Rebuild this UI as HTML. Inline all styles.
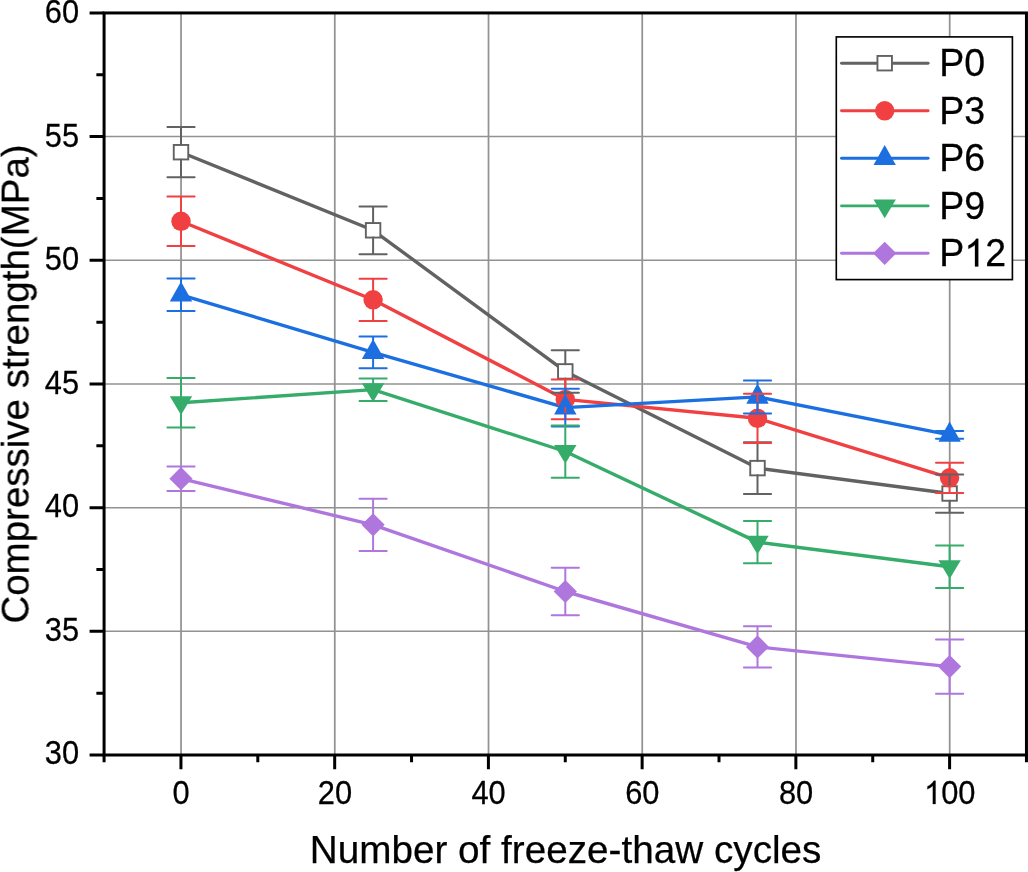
<!DOCTYPE html>
<html><head><meta charset="utf-8"><style>
html,body{margin:0;padding:0;background:#fff;width:1028px;height:872px;overflow:hidden;font-family:"Liberation Sans",sans-serif;}
svg{display:block;}
</style></head><body>
<svg width="1028" height="872" viewBox="0 0 1028 872">
<rect width="1028" height="872" fill="#fff"/>
<path d="M181.05 12.95V755.00M334.78 12.95V755.00M488.51 12.95V755.00M642.24 12.95V755.00M795.97 12.95V755.00M949.70 12.95V755.00" stroke="#929292" stroke-width="1.75" fill="none"/>
<path d="M104.08 631.33H1026.46M104.08 507.65H1026.46M104.08 383.97H1026.46M104.08 260.30H1026.46M104.08 136.62H1026.46" stroke="#929292" stroke-width="1.5" fill="none"/>
<polyline points="181.00,152.20 373.10,230.30 565.30,371.40 757.50,468.10 949.60,493.50" fill="none" stroke="#626262" stroke-width="3.4" stroke-linejoin="round"/>
<polyline points="181.00,221.30 373.10,299.80 565.30,399.40 757.50,418.30 949.60,477.80" fill="none" stroke="#f04042" stroke-width="3.4" stroke-linejoin="round"/>
<polyline points="181.00,294.80 373.10,352.30 565.30,407.60 757.50,396.90 949.60,434.90" fill="none" stroke="#1b6fe0" stroke-width="3.4" stroke-linejoin="round"/>
<polyline points="181.00,402.70 373.10,389.60 565.30,451.50 757.50,542.10 949.60,566.70" fill="none" stroke="#36ac6a" stroke-width="3.4" stroke-linejoin="round"/>
<polyline points="181.00,478.70 373.10,524.80 565.30,591.50 757.50,646.90 949.60,666.60" fill="none" stroke="#af77de" stroke-width="3.4" stroke-linejoin="round"/>
<rect x="173.75" y="144.95" width="14.50" height="14.50" fill="#fff" stroke="#626262" stroke-width="1.9"/>
<rect x="365.85" y="223.05" width="14.50" height="14.50" fill="#fff" stroke="#626262" stroke-width="1.9"/>
<rect x="558.05" y="364.15" width="14.50" height="14.50" fill="#fff" stroke="#626262" stroke-width="1.9"/>
<rect x="750.25" y="460.85" width="14.50" height="14.50" fill="#fff" stroke="#626262" stroke-width="1.9"/>
<rect x="942.35" y="486.25" width="14.50" height="14.50" fill="#fff" stroke="#626262" stroke-width="1.9"/>
<circle cx="181.00" cy="221.30" r="9.70" fill="#f04042"/>
<circle cx="373.10" cy="299.80" r="9.70" fill="#f04042"/>
<circle cx="565.30" cy="399.40" r="9.70" fill="#f04042"/>
<circle cx="757.50" cy="418.30" r="9.70" fill="#f04042"/>
<circle cx="949.60" cy="477.80" r="9.70" fill="#f04042"/>
<path d="M181.00 281.40L192.20 301.60L169.80 301.60Z" fill="#1b6fe0"/>
<path d="M373.10 338.90L384.30 359.10L361.90 359.10Z" fill="#1b6fe0"/>
<path d="M565.30 394.20L576.50 414.40L554.10 414.40Z" fill="#1b6fe0"/>
<path d="M757.50 383.50L768.70 403.70L746.30 403.70Z" fill="#1b6fe0"/>
<path d="M949.60 421.50L960.80 441.70L938.40 441.70Z" fill="#1b6fe0"/>
<path d="M181.00 415.00L192.20 396.30L169.80 396.30Z" fill="#36ac6a"/>
<path d="M373.10 401.90L384.30 383.20L361.90 383.20Z" fill="#36ac6a"/>
<path d="M565.30 463.80L576.50 445.10L554.10 445.10Z" fill="#36ac6a"/>
<path d="M757.50 554.40L768.70 535.70L746.30 535.70Z" fill="#36ac6a"/>
<path d="M949.60 579.00L960.80 560.30L938.40 560.30Z" fill="#36ac6a"/>
<path d="M181.00 467.10L192.60 478.70L181.00 490.30L169.40 478.70Z" fill="#af77de"/>
<path d="M373.10 513.20L384.70 524.80L373.10 536.40L361.50 524.80Z" fill="#af77de"/>
<path d="M565.30 579.90L576.90 591.50L565.30 603.10L553.70 591.50Z" fill="#af77de"/>
<path d="M757.50 635.30L769.10 646.90L757.50 658.50L745.90 646.90Z" fill="#af77de"/>
<path d="M949.60 655.00L961.20 666.60L949.60 678.20L938.00 666.60Z" fill="#af77de"/>
<path d="M181.00 126.90V145.00M181.00 159.40V177.30M167.40 126.90H194.60M167.40 177.30H194.60M373.10 206.60V223.10M373.10 237.50V254.20M359.50 206.60H386.70M359.50 254.20H386.70M565.30 350.30V364.20M565.30 378.60V392.80M551.70 350.30H578.90M551.70 392.80H578.90M757.50 442.30V460.90M757.50 475.30V494.00M743.90 442.30H771.10M743.90 494.00H771.10M949.60 474.50V486.30M949.60 500.70V512.80M936.00 474.50H963.20M936.00 512.80H963.20" stroke="#626262" stroke-width="2.0" stroke-linecap="round" fill="none"/>
<path d="M181.00 196.60V212.60M181.00 230.00V246.10M167.40 196.60H194.60M167.40 246.10H194.60M373.10 278.80V291.10M373.10 308.50V321.00M359.50 278.80H386.70M359.50 321.00H386.70M565.30 379.50V390.70M565.30 408.10V419.30M551.70 379.50H578.90M551.70 419.30H578.90M757.50 393.70V409.60M757.50 427.00V443.10M743.90 393.70H771.10M743.90 443.10H771.10M949.60 462.70V469.10M949.60 486.50V492.90M936.00 462.70H963.20M936.00 492.90H963.20" stroke="#f04042" stroke-width="2.0" stroke-linecap="round" fill="none"/>
<path d="M181.00 278.60V282.40M181.00 300.60V311.00M167.40 278.60H194.60M167.40 311.00H194.60M373.10 336.40V339.90M373.10 358.10V368.30M359.50 336.40H386.70M359.50 368.30H386.70M565.30 388.70V395.20M565.30 413.40V426.50M551.70 388.70H578.90M551.70 426.50H578.90M757.50 380.50V384.50M757.50 402.70V413.40M743.90 380.50H771.10M743.90 413.40H771.10M936.00 431.10H963.20M936.00 438.70H963.20" stroke="#1b6fe0" stroke-width="2.0" stroke-linecap="round" fill="none"/>
<path d="M181.00 378.00V397.30M181.00 414.00V427.40M167.40 378.00H194.60M167.40 427.40H194.60M373.10 378.40V384.20M359.50 378.40H386.70M359.50 400.90H386.70M565.30 425.40V446.10M565.30 462.80V477.70M551.70 425.40H578.90M551.70 477.70H578.90M757.50 521.00V536.70M757.50 553.40V563.20M743.90 521.00H771.10M743.90 563.20H771.10M949.60 545.60V561.30M949.60 578.00V587.90M936.00 545.60H963.20M936.00 587.90H963.20" stroke="#36ac6a" stroke-width="2.0" stroke-linecap="round" fill="none"/>
<path d="M181.00 466.50V468.10M181.00 489.30V491.00M167.40 466.50H194.60M167.40 491.00H194.60M373.10 498.80V514.20M373.10 535.40V550.90M359.50 498.80H386.70M359.50 550.90H386.70M565.30 567.80V580.90M565.30 602.10V615.20M551.70 567.80H578.90M551.70 615.20H578.90M757.50 626.20V636.30M757.50 657.50V667.60M743.90 626.20H771.10M743.90 667.60H771.10M949.60 639.60V656.00M949.60 677.20V693.70M936.00 639.60H963.20M936.00 693.70H963.20" stroke="#af77de" stroke-width="2.0" stroke-linecap="round" fill="none"/>
<rect x="104.08" y="12.95" width="922.38" height="742.05" fill="none" stroke="#000" stroke-width="3.0"/>
<path d="M89.58 755.00H104.08M89.58 631.33H104.08M89.58 507.65H104.08M89.58 383.97H104.08M89.58 260.30H104.08M89.58 136.62H104.08M89.58 12.95H104.08M96.38 693.16H104.08M96.38 569.49H104.08M96.38 445.81H104.08M96.38 322.14H104.08M96.38 198.46H104.08M96.38 74.79H104.08M180.95 755.00V769.30M334.68 755.00V769.30M488.41 755.00V769.30M642.14 755.00V769.30M795.87 755.00V769.30M949.60 755.00V769.30M104.08 755.00V762.20M257.81 755.00V762.20M411.54 755.00V762.20M565.27 755.00V762.20M719.00 755.00V762.20M872.73 755.00V762.20M1026.46 755.00V762.20" stroke="#000" stroke-width="3.0" fill="none"/>
<rect x="836.3" y="36.9" width="176.10" height="242.70" fill="#fff" stroke="#000" stroke-width="1.65"/>
<path d="M841.5 63.2H928.1" stroke="#626262" stroke-width="2.9" stroke-linecap="round"/>
<rect x="877.45" y="55.95" width="14.50" height="14.50" fill="#fff" stroke="#626262" stroke-width="1.9"/>
<path d="M841.5 110.8H928.1" stroke="#f04042" stroke-width="2.9" stroke-linecap="round"/>
<circle cx="884.70" cy="110.80" r="9.70" fill="#f04042"/>
<path d="M841.5 158.3H928.1" stroke="#1b6fe0" stroke-width="2.9" stroke-linecap="round"/>
<path d="M884.70 144.90L895.90 165.10L873.50 165.10Z" fill="#1b6fe0"/>
<path d="M841.5 205.9H928.1" stroke="#36ac6a" stroke-width="2.9" stroke-linecap="round"/>
<path d="M884.70 218.20L895.90 199.50L873.50 199.50Z" fill="#36ac6a"/>
<path d="M841.5 253.3H928.1" stroke="#af77de" stroke-width="2.9" stroke-linecap="round"/>
<path d="M884.70 241.70L896.30 253.30L884.70 264.90L873.10 253.30Z" fill="#af77de"/>
<g font-family="Liberation Sans" fill="#000" stroke="#000" stroke-width="0.25" style="filter:grayscale(1)"><text transform="translate(79.10 764.10) scale(1 1.053)" font-size="30.85" text-anchor="end">30</text><text transform="translate(79.10 640.63) scale(1 1.053)" font-size="30.85" text-anchor="end">35</text><text transform="translate(79.10 517.17) scale(1 1.053)" font-size="30.85" text-anchor="end">40</text><text transform="translate(79.10 393.70) scale(1 1.053)" font-size="30.85" text-anchor="end">45</text><text transform="translate(79.10 270.23) scale(1 1.053)" font-size="30.85" text-anchor="end">50</text><text transform="translate(79.10 146.77) scale(1 1.053)" font-size="30.85" text-anchor="end">55</text><text transform="translate(79.10 23.30) scale(1 1.053)" font-size="30.85" text-anchor="end">60</text><text transform="translate(181.15 804.00) scale(1 1.053)" font-size="30.85" text-anchor="middle">0</text><text transform="translate(334.88 804.00) scale(1 1.053)" font-size="30.85" text-anchor="middle">20</text><text transform="translate(488.61 804.00) scale(1 1.053)" font-size="30.85" text-anchor="middle">40</text><text transform="translate(642.34 804.00) scale(1 1.053)" font-size="30.85" text-anchor="middle">60</text><text transform="translate(796.07 804.00) scale(1 1.053)" font-size="30.85" text-anchor="middle">80</text><path transform="translate(924.06 804.00) scale(0.01506 -0.01586)" stroke-width="16.6" d="M763 0L583 0L583 1147Q518 1085 412 1023Q307 961 223 930L223 1104Q374 1175 487 1276Q600 1377 647 1466L763 1466Z"/><text transform="translate(941.22 804.00) scale(1 1.053)" font-size="30.85" text-anchor="start">00</text><text transform="translate(565.60 862.60) scale(1 1.0)" font-size="38.7" text-anchor="middle">Number of freeze-thaw cycles</text><text transform="translate(28.60 384.00) rotate(-90) scale(1 1.0)" font-size="38.5" text-anchor="middle">Compressive strength(MPa)</text><text transform="translate(939.30 76.30) scale(1 1.03)" font-size="37.5" text-anchor="start">P0</text><text transform="translate(939.30 123.90) scale(1 1.03)" font-size="37.5" text-anchor="start">P3</text><text transform="translate(939.30 171.40) scale(1 1.03)" font-size="37.5" text-anchor="start">P6</text><text transform="translate(939.30 219.00) scale(1 1.03)" font-size="37.5" text-anchor="start">P9</text><text transform="translate(939.30 266.40) scale(1 1.03)" font-size="37.5" text-anchor="start">P</text><path transform="translate(964.31 266.40) scale(0.01831 -0.01886)" stroke-width="13.7" d="M763 0L583 0L583 1147Q518 1085 412 1023Q307 961 223 930L223 1104Q374 1175 487 1276Q600 1377 647 1466L763 1466Z"/><text transform="translate(985.17 266.40) scale(1 1.03)" font-size="37.5" text-anchor="start">2</text></g>
</svg>
</body></html>
